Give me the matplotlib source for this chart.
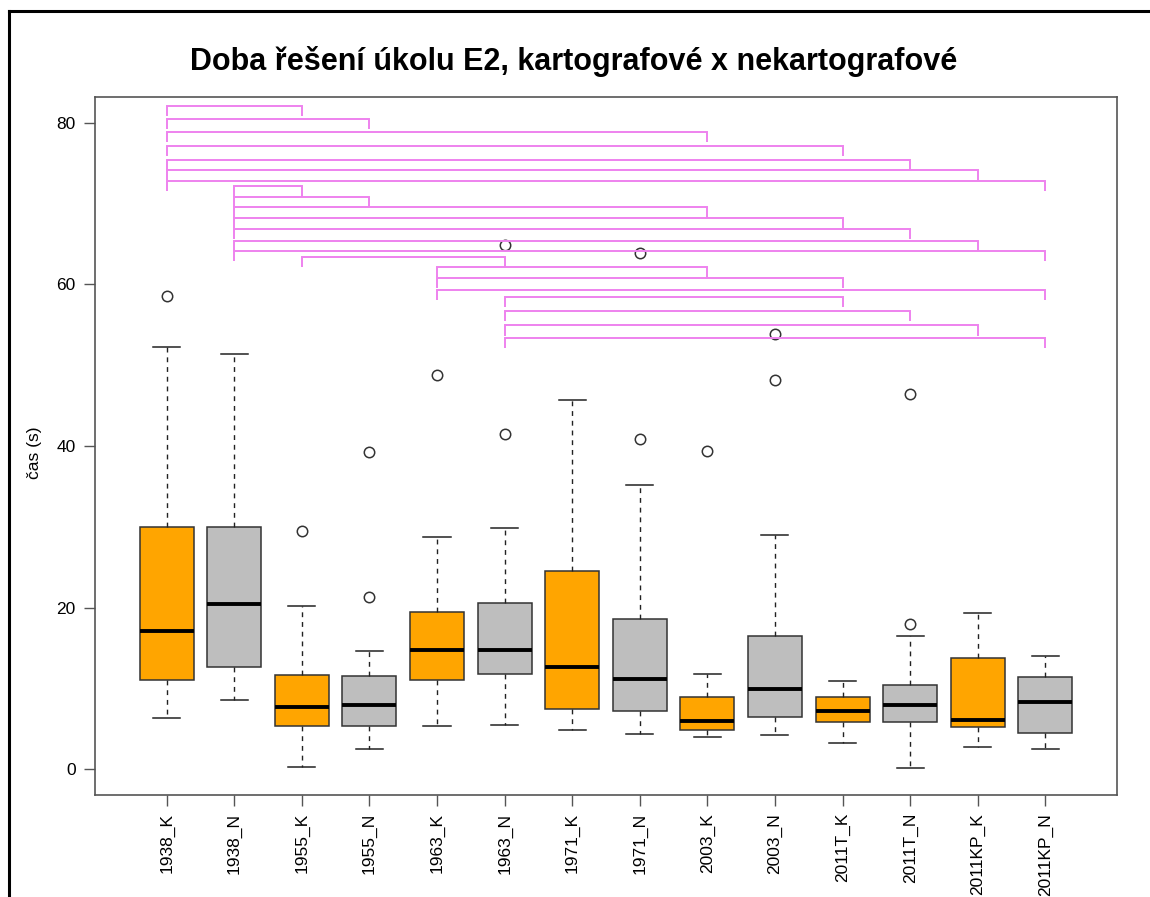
import matplotlib.pyplot as plt
from matplotlib.lines import Line2D

plt.rcParams["font.family"] = ["Liberation Sans", "DejaVu Sans"]

# Box statistics

labels = ["1938_K", "1938_N", "1955_K", "1955_N", "1963_K", "1963_N", "1971_K",
          "1971_N", "2003_K", "2003_N", "2011T_K", "2011T_N", "2011KP_K", "2011KP_N"]

medians = [17.1, 20.4, 7.7, 7.9, 14.7, 14.8, 12.6, 11.2, 6.0, 9.9, 7.2, 7.9, 6.1, 8.3]
q1 = [11.0, 12.6, 5.4, 5.3, 11.0, 11.8, 7.5, 7.2, 4.9, 6.5, 5.8, 5.8, 5.2, 4.5]
q3 = [29.9, 30.0, 11.6, 11.5, 19.4, 20.5, 24.5, 18.6, 8.9, 16.5, 8.9, 10.4, 13.8, 11.4]
whislo = [6.3, 8.6, 0.3, 2.5, 5.4, 5.5, 4.8, 4.3, 4.0, 4.2, 3.2, 0.1, 2.8, 2.5]
whishi = [52.2, 51.4, 20.2, 14.6, 28.7, 29.8, 45.7, 35.2, 11.8, 29.0, 10.9, 16.5, 19.3, 14.0]
fliers = [[58.6], [], [29.5], [39.3, 21.3], [48.8], [41.5, 64.9], [],
          [40.9, 63.9], [39.4], [53.9, 48.1], [], [46.4, 17.9], [], []]

fill_colors = ["#FFA500", "#BEBEBE"] * 7

# Significant pairs (box numbers) and the height of each bracket

bracket_from = [1, 1, 1, 1, 1, 1, 1,
                2, 2, 2, 2, 2, 2, 2,
                3,
                5, 5, 5,
                6, 6, 6, 6]
bracket_to = [3, 4, 9, 11, 12, 13, 14,
              3, 4, 9, 11, 12, 13, 14,
              6,
              9, 11, 14,
              11, 12, 13, 14]
bracket_y = [82.1, 80.5, 78.8, 77.1, 75.4, 74.1, 72.8,
             72.1, 70.8, 69.5, 68.2, 66.8, 65.4, 64.1,
             63.4,
             62.1, 60.8, 59.3,
             58.4, 56.7, 54.9, 53.4]
bracket_tick = 1.25

fig = plt.figure(figsize=(11.5, 8.97), dpi=100)
ax = fig.add_axes([0.0826, 0.1137, 0.8887, 0.7785])

stats = []
for i in range(len(labels)):
    stats.append({
        "med": medians[i],
        "q1": q1[i],
        "q3": q3[i],
        "whislo": whislo[i],
        "whishi": whishi[i],
        "fliers": fliers[i],
    })

positions = list(range(1, len(labels) + 1))

bp = ax.bxp(
    stats,
    positions=positions,
    widths=0.8,
    capwidths=0.4,
    patch_artist=True,
    boxprops=dict(edgecolor="#333333", linewidth=1.1),
    whiskerprops=dict(color="#222222", linewidth=1.0, linestyle=(0, (3.5, 3.5))),
    capprops=dict(color="#222222", linewidth=1.1),
    medianprops=dict(color="black", linewidth=2.8, solid_capstyle="butt"),
    flierprops=dict(marker="o", markersize=7.5, markerfacecolor="none",
                    markeredgecolor="#333333", markeredgewidth=1.1),
)

for patch, c in zip(bp["boxes"], fill_colors):
    patch.set_facecolor(c)

# Brackets

for a, b, y in zip(bracket_from, bracket_to, bracket_y):
    ax.plot([a, a, b, b], [y - bracket_tick, y, y, y - bracket_tick],
            color="#EE82EE", lw=1.4, solid_capstyle="butt", solid_joinstyle="miter")

ax.set_xlim(-0.06, 15.06)
ax.set_ylim(-3.2, 83.2)
ax.set_yticks([0, 20, 40, 60, 80])
ax.set_xticks(positions, labels, rotation=90)

ax.tick_params(axis="both", length=8, width=1.0, color="#555555",
               labelsize=12.5, labelcolor="black")
ax.tick_params(axis="x", pad=5)
ax.tick_params(axis="y", pad=6)

for s in ax.spines.values():
    s.set_color("#555555")
    s.set_linewidth(1.2)

fig.text(0.0304, 0.495, "čas (s)", rotation=90, ha="center", va="center",
         fontsize=12.5)

fig.text(0.499, 0.922, "Doba řešení úkolu E2, kartografové x nekartografové",
         ha="center", va="baseline", fontsize=22, fontweight="bold")

# Outer frame (left and top)

fig.add_artist(Line2D([0.0078, 0.0078], [0, 0.9877], transform=fig.transFigure,
                      color="black", lw=2.2))
fig.add_artist(Line2D([0.0078, 1.0], [0.9877, 0.9877], transform=fig.transFigure,
                      color="black", lw=2.2))

fig.savefig("out.png", dpi=100)
